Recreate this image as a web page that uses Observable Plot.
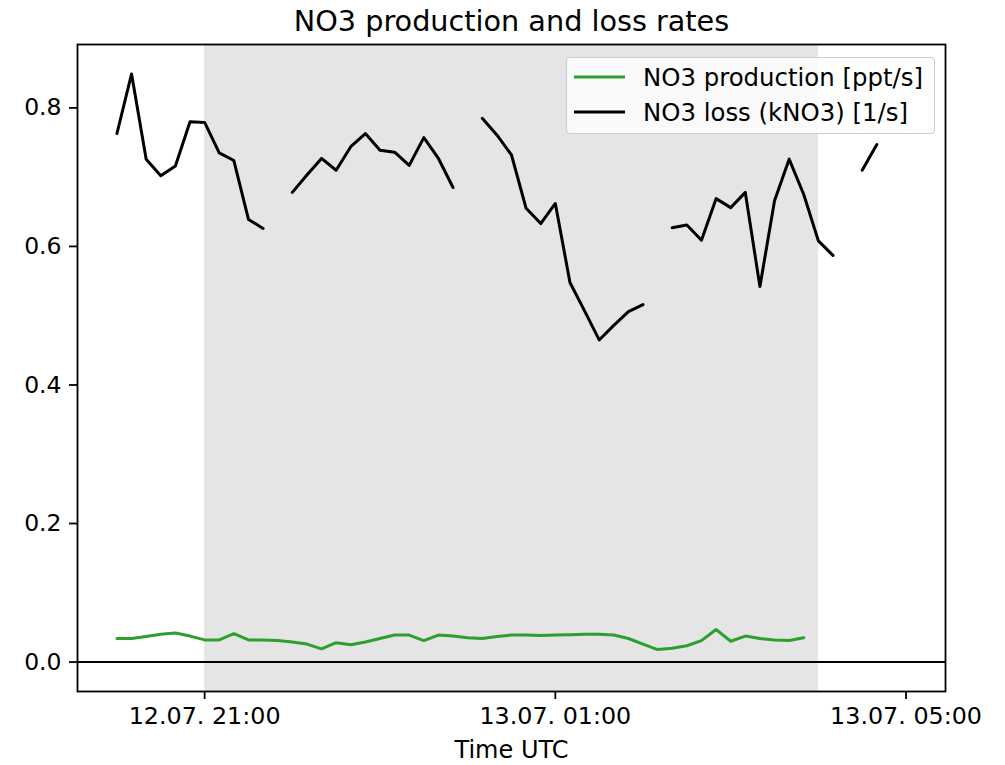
<!DOCTYPE html>
<html>
<head>
<meta charset="utf-8">
<script src="https://cdn.jsdelivr.net/npm/d3@7"></script>
<script src="https://cdn.jsdelivr.net/npm/@observablehq/plot@0.6"></script>
<style>
  html, body { margin: 0; padding: 0; background: #fff; }
  #wrap { position: relative; width: 1005px; height: 765px; font-family: "DejaVu Sans", sans-serif; }
  #legend { position: absolute; left: 566px; top: 57px; width: 369px; height: 77px;
            background: rgba(255,255,255,0.8); border: 1px solid #cccccc; border-radius: 4px; box-sizing: border-box; }
  .lg-row { position: absolute; left: 0; height: 30px; display: flex; align-items: center; }
  .lg-row svg { margin-left: 7px; }
  .lg-row span { margin-left: 18px; font-size: 24.4px; color: #000; white-space: nowrap; }
</style>
</head>
<body>
<div id="wrap"></div>
<script>
// --- data (10-minute values, UTC) ---
const times = [
  "2023-07-12T20:00Z","2023-07-12T20:10Z","2023-07-12T20:20Z","2023-07-12T20:30Z","2023-07-12T20:40Z","2023-07-12T20:50Z",
  "2023-07-12T21:00Z","2023-07-12T21:10Z","2023-07-12T21:20Z","2023-07-12T21:30Z","2023-07-12T21:40Z","2023-07-12T21:50Z",
  "2023-07-12T22:00Z","2023-07-12T22:10Z","2023-07-12T22:20Z","2023-07-12T22:30Z","2023-07-12T22:40Z","2023-07-12T22:50Z",
  "2023-07-12T23:00Z","2023-07-12T23:10Z","2023-07-12T23:20Z","2023-07-12T23:30Z","2023-07-12T23:40Z","2023-07-12T23:50Z",
  "2023-07-13T00:00Z","2023-07-13T00:10Z","2023-07-13T00:20Z","2023-07-13T00:30Z","2023-07-13T00:40Z","2023-07-13T00:50Z",
  "2023-07-13T01:00Z","2023-07-13T01:10Z","2023-07-13T01:20Z","2023-07-13T01:30Z","2023-07-13T01:40Z","2023-07-13T01:50Z",
  "2023-07-13T02:00Z","2023-07-13T02:10Z","2023-07-13T02:20Z","2023-07-13T02:30Z","2023-07-13T02:40Z","2023-07-13T02:50Z",
  "2023-07-13T03:00Z","2023-07-13T03:10Z","2023-07-13T03:20Z","2023-07-13T03:30Z","2023-07-13T03:40Z","2023-07-13T03:50Z",
  "2023-07-13T04:00Z","2023-07-13T04:10Z","2023-07-13T04:20Z","2023-07-13T04:30Z","2023-07-13T04:40Z","2023-07-13T04:50Z",
  "2023-07-13T05:00Z"
];
const no3Loss = [
  0.763, 0.849, 0.726, 0.702, 0.716, 0.780,
  0.779, 0.735, 0.724, 0.639, 0.626, null,
  0.678, 0.703, 0.727, 0.710, 0.744, 0.763,
  0.739, 0.736, 0.717, 0.757, 0.727, 0.685,
  null, 0.785, 0.761, 0.732, 0.655, 0.633,
  0.662, 0.548, 0.507, 0.465, 0.486, 0.506,
  0.516, null, 0.627, 0.631, 0.609, 0.669,
  0.656, 0.678, 0.542, 0.666, 0.726, 0.675,
  0.608, 0.587, null, 0.710, 0.747, null,
  null
];
const no3Production = [
  0.034, 0.034, 0.037, 0.040, 0.042, 0.0375,
  0.032, 0.032, 0.041, 0.032, 0.032, 0.031,
  0.029, 0.026, 0.019, 0.028, 0.025, 0.029,
  0.034, 0.039, 0.039, 0.031, 0.039, 0.0375,
  0.035, 0.034, 0.037, 0.039, 0.039, 0.0385,
  0.039, 0.0395, 0.040, 0.040, 0.039, 0.034,
  0.026, 0.018, 0.020, 0.0235, 0.031, 0.047,
  0.030, 0.0375, 0.034, 0.032, 0.031, 0.035,
  null, null, null, null, null, null,
  null
];
const nightSpan = [{start: "2023-07-12T21:00Z", end: "2023-07-13T04:00Z"}];
const xTicks = ["2023-07-12T21:00Z", "2023-07-13T01:00Z", "2023-07-13T05:00Z"];
const xDomain = ["2023-07-12T19:33Z", "2023-07-13T05:27Z"];
const yTicks = [0.0, 0.2, 0.4, 0.6, 0.8];
const seriesNames = ["NO3 production [ppt/s]", "NO3 loss (kNO3) [1/s]"];
const seriesColors = ["#2ca02c", "#000000"];

const toDate = s => new Date(s);
const rows = times.map((t, i) => ({t: toDate(t), loss: no3Loss[i], prod: no3Production[i]}));
const span = nightSpan.map(d => ({start: toDate(d.start), end: toDate(d.end)}));

const fmt = d3.utcFormat("%d.%m. %H:%M");

const chart = Plot.plot({
  width: 1005,
  height: 765,
  marginLeft: 77,
  marginRight: 60,
  marginTop: 44,
  marginBottom: 74,
  style: {fontFamily: "DejaVu Sans, sans-serif", fontSize: "23.5px", color: "#000", background: "#fff"},
  x: {type: "utc", domain: xDomain.map(toDate)},
  y: {domain: [-0.0425, 0.8915]},
  marks: [
    Plot.rect(span, {x1: "start", x2: "end", fill: "#e5e5e5"}),
    Plot.ruleY([0], {stroke: "#000", strokeWidth: 2}),
    Plot.line(rows, {x: "t", y: "prod", stroke: seriesColors[0], strokeWidth: 3, curve: "linear"}),
    Plot.line(rows, {x: "t", y: "loss", stroke: seriesColors[1], strokeWidth: 3, curve: "linear"}),
    Plot.frame({stroke: "#000", strokeWidth: 1.8}),
    Plot.axisX({ticks: xTicks.map(toDate), tickFormat: fmt, tickSize: 8, tickPadding: 8, strokeWidth: 1.8, fontSize: 23.8, label: null}),
    Plot.axisY({ticks: yTicks, tickFormat: d3.format(".1f"), tickSize: 8, tickPadding: 8, strokeWidth: 1.8, fontSize: 23.5, label: null}),
    Plot.text(["Time UTC"], {frameAnchor: "bottom", dy: 59, fontSize: 24, lineAnchor: "middle", fill: "#000"}),
    Plot.text(["NO3 production and loss rates"], {frameAnchor: "top", dy: -23, fontSize: 28.7, lineAnchor: "middle", fill: "#000"})
  ]
});

const wrap = document.getElementById("wrap");
wrap.appendChild(chart);

// legend
const legend = document.createElement("div");
legend.id = "legend";
seriesNames.forEach((name, i) => {
  const row = document.createElement("div");
  row.className = "lg-row";
  row.style.top = (4 + i * 35) + "px";
  row.innerHTML = `<svg width="51" height="10"><line x1="0" x2="51" y1="5" y2="5" stroke="${seriesColors[i]}" stroke-width="3"/></svg><span>${name}</span>`;
  legend.appendChild(row);
});
wrap.appendChild(legend);
</script>
</body>
</html>
